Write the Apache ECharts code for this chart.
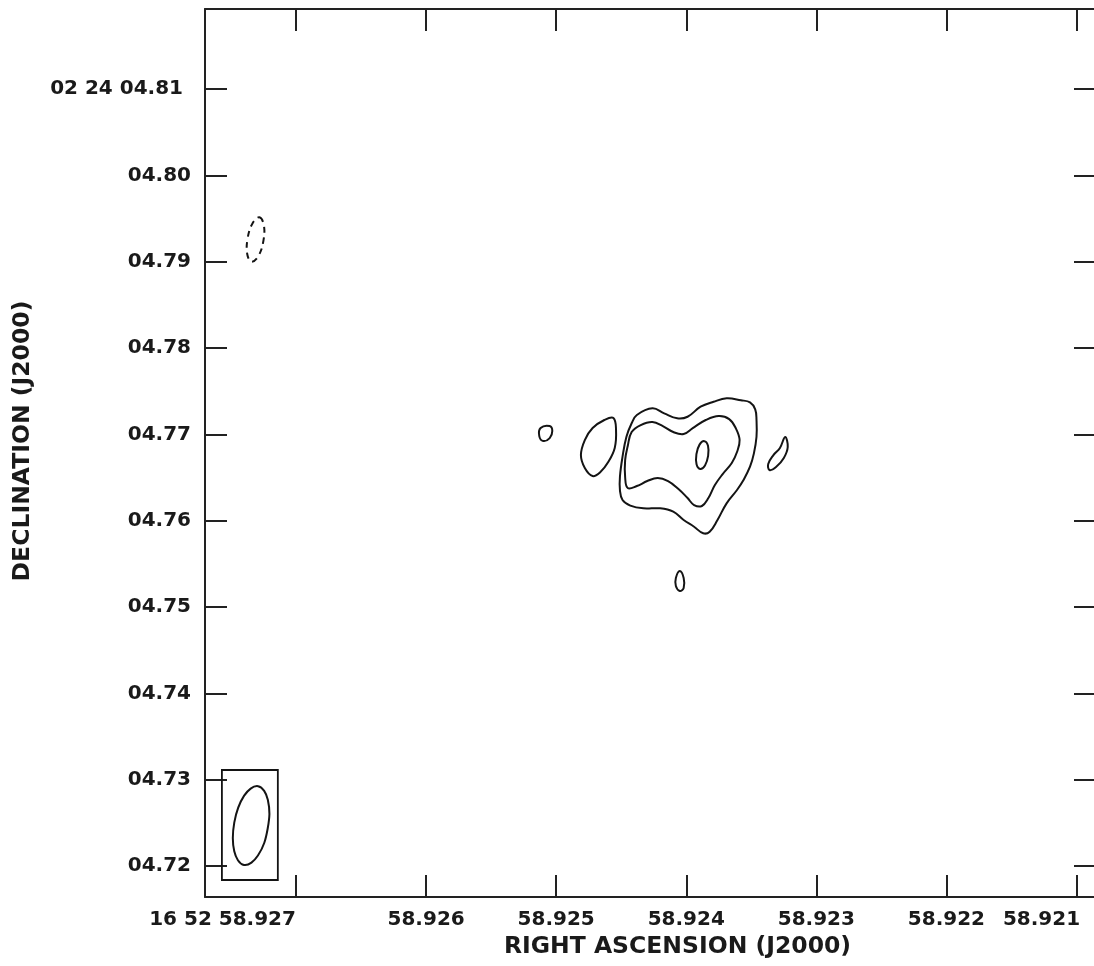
<!DOCTYPE html>
<html>
<head>
<meta charset="utf-8">
<script src="https://cdn.jsdelivr.net/npm/echarts@6/dist/echarts.min.js"></script>
<style>
html, body { margin: 0; padding: 0; background: #fff; }
#main { width: 1094px; height: 966px; }
</style>
</head>
<body>
<div id="main"></div>
<script>
// axis ticks (RA seconds, Dec arcseconds)
const raTicks = [58.927, 58.926, 58.925, 58.924, 58.923, 58.922, 58.921];
const raLabels = ['16 52 58.927', '58.926', '58.925', '58.924', '58.923', '58.922', '58.921'];
const decTicks = [4.72, 4.73, 4.74, 4.75, 4.76, 4.77, 4.78, 4.79, 4.80, 4.81];
const decLabels = ['04.72', '04.73', '04.74', '04.75', '04.76', '04.77', '04.78', '04.79', '04.80', '02 24 04.81'];

// contours, [ra, dec]
const outerContour = [
  [58.92438, 4.77224], [58.92426, 4.77301], [58.92417, 4.77243], [58.92407, 4.77186],
  [58.92399, 4.77204], [58.92389, 4.77320], [58.92379, 4.77378], [58.92369, 4.77417],
  [58.92358, 4.77395], [58.92351, 4.77370], [58.92347, 4.77290], [58.92346, 4.77166],
  [58.92346, 4.76972], [58.92348, 4.76780], [58.92351, 4.76625], [58.92356, 4.76471],
  [58.92361, 4.76355], [58.92369, 4.76201], [58.92376, 4.76008], [58.92382, 4.75872],
  [58.92387, 4.75854], [58.92394, 4.75930], [58.92402, 4.76008], [58.92410, 4.76104],
  [58.92420, 4.76143], [58.92433, 4.76143], [58.92443, 4.76175], [58.92449, 4.76240],
  [58.92451, 4.76355], [58.92451, 4.76509], [58.92449, 4.76741], [58.92446, 4.76972],
  [58.92442, 4.77128]
];
const innerContour = [
  [58.92442, 4.77027], [58.92435, 4.77108], [58.92426, 4.77143], [58.92418, 4.77096],
  [58.92410, 4.77027], [58.92402, 4.77004], [58.92395, 4.77073], [58.92385, 4.77166],
  [58.92375, 4.77212], [58.92367, 4.77177], [58.92362, 4.77073], [58.92359, 4.76934],
  [58.92361, 4.76795], [58.92365, 4.76668], [58.92372, 4.76540], [58.92378, 4.76413],
  [58.92383, 4.76262], [58.92388, 4.76170], [58.92394, 4.76181], [58.92399, 4.76262],
  [58.92406, 4.76367], [58.92414, 4.76459], [58.92422, 4.76494], [58.92430, 4.76459],
  [58.92438, 4.76401], [58.92445, 4.76378], [58.92447, 4.76506], [58.92447, 4.76702],
  [58.92445, 4.76865]
];
const peakContour = [
  [58.923861, 4.769214], [58.923833, 4.768670], [58.923832, 4.767500], [58.923856, 4.766400],
  [58.923893, 4.765995], [58.923921, 4.766539], [58.923922, 4.767709], [58.923898, 4.768809]
];
const westBlob = [
  [58.92456, 4.77189], [58.92463, 4.77166], [58.92472, 4.77073], [58.92478, 4.76934],
  [58.92481, 4.76760], [58.92478, 4.76610], [58.92472, 4.76517], [58.92466, 4.76564],
  [58.92460, 4.76679], [58.92455, 4.76842], [58.92454, 4.77050]
];
const westKnot = [
  [58.92512, 4.77073], [58.92505, 4.77096], [58.92503, 4.77038],
  [58.92505, 4.76957], [58.92510, 4.76923], [58.92513, 4.76980]
];
const eastSliver = [
  [58.92324, 4.76969], [58.92322, 4.76853], [58.92325, 4.76726], [58.92331, 4.76621],
  [58.92336, 4.76587], [58.92337, 4.76656], [58.92333, 4.76760], [58.92328, 4.76842]
];
const southKnot = [
  [58.92405, 4.75417], [58.92402, 4.75336], [58.92402, 4.75220],
  [58.92405, 4.75185], [58.92408, 4.75243], [58.92408, 4.75336]
];
const negContour = [
  [58.927282, 4.795138], [58.927248, 4.794270], [58.927251, 4.792405], [58.927290, 4.790644],
  [58.927342, 4.789995], [58.927375, 4.790864], [58.927372, 4.792729], [58.927333, 4.794490]
];
const beamEllipse = [
  [58.927292, 4.72925], [58.927217, 4.72768], [58.927218, 4.72434], [58.927293, 4.72121],
  [58.927400, 4.72012], [58.927475, 4.72170], [58.927475, 4.72503], [58.927399, 4.72815]
];
const beamBox = [
  [58.92757, 4.73112], [58.92714, 4.73112], [58.92714, 4.71838], [58.92757, 4.71838]
];

const contours = [
  { pts: outerContour, smooth: 0.4 },
  { pts: innerContour, smooth: 0.4 },
  { pts: peakContour, smooth: 0.4 },
  { pts: westBlob, smooth: 0.4 },
  { pts: westKnot, smooth: 0.4 },
  { pts: eastSliver, smooth: 0.4 },
  { pts: southKnot, smooth: 0.4 },
  { pts: negContour, smooth: 0.4, dashed: true },
  { pts: beamEllipse, smooth: 0.4 },
  { pts: beamBox, smooth: 0, thin: true }
];

const raMin = 58.92085, raMax = 58.9277;
const decMin = 4.71641, decMax = 4.81927;

const font = { fontFamily: 'DejaVu Sans', fontWeight: 'bold', color: '#1a1a1a' };
const lineCol = '#222';

function pick(ticks, labels, v) {
  for (let i = 0; i < ticks.length; i++) {
    if (Math.abs(ticks[i] - v) < 1e-7) return labels[i];
  }
  return '';
}

const myChart = echarts.init(document.getElementById('main'));

const axisCommon = {
  splitLine: { show: false },
  axisLine: { lineStyle: { color: lineCol, width: 2 } },
  axisTick: { inside: true, length: 22, lineStyle: { color: lineCol, width: 2 } }
};

const option = {
  animation: false,
  backgroundColor: '#fff',
  grid: { left: 205, right: -2, top: 9, bottom: 69, containLabel: false, outerBoundsMode: 'none' },
  xAxis: [
    Object.assign({}, axisCommon, {
      type: 'value', min: raMin, max: raMax, inverse: true, position: 'bottom',
      axisTick: Object.assign({}, axisCommon.axisTick, { customValues: raTicks }),
      axisLabel: Object.assign({}, font, {
        fontSize: 20, margin: 13, customValues: raTicks, hideOverlap: false,
        formatter: function (v) {
          const s = pick(raTicks, raLabels, v);
          if (Math.abs(v - raTicks[0]) < 1e-7) return '{first|' + s + '}';
          if (Math.abs(v - raTicks[raTicks.length - 1]) < 1e-7) return '{last|' + s + '}';
          return s;
        },
        rich: {
          first: Object.assign({}, font, { fontSize: 20, padding: [0, 147, 0, 0] }),
          last: Object.assign({}, font, { fontSize: 20, padding: [0, 70, 0, 0] })
        }
      }),
      name: 'RIGHT ASCENSION (J2000)',
      nameLocation: 'middle',
      nameGap: 36,
      nameTextStyle: Object.assign({}, font, { fontSize: 23.5, padding: [0, 0, 0, 54] })
    }),
    Object.assign({}, axisCommon, {
      type: 'value', min: raMin, max: raMax, inverse: true, position: 'top',
      axisTick: Object.assign({}, axisCommon.axisTick, { customValues: raTicks }),
      axisLabel: { show: false }
    })
  ],
  yAxis: [
    Object.assign({}, axisCommon, {
      type: 'value', min: decMin, max: decMax, position: 'left',
      axisTick: Object.assign({}, axisCommon.axisTick, { customValues: decTicks }),
      axisLabel: Object.assign({}, font, {
        fontSize: 20, margin: 14, customValues: decTicks, hideOverlap: false,
        formatter: function (v) {
          const s = pick(decTicks, decLabels, v);
          return Math.abs(v - 4.81) < 1e-7 ? '{top|' + s + '}' : s;
        },
        rich: { top: Object.assign({}, font, { fontSize: 20, padding: [0, 8, 0, 0] }) }
      }),
      name: 'DECLINATION (J2000)',
      nameLocation: 'middle',
      nameGap: 170,
      nameTextStyle: Object.assign({}, font, { fontSize: 23.5, padding: [0, 0, 0, 24] })
    }),
    Object.assign({}, axisCommon, {
      type: 'value', min: decMin, max: decMax, position: 'right',
      axisTick: Object.assign({}, axisCommon.axisTick, { customValues: decTicks }),
      axisLabel: { show: false }
    })
  ],
  series: [{
    type: 'custom',
    xAxisIndex: 0,
    yAxisIndex: 0,
    data: contours.map(function (c) { return [c.pts[0][0], c.pts[0][1]]; }),
    renderItem: function (params, api) {
      const c = contours[params.dataIndex];
      const points = c.pts.map(function (p) { return api.coord(p); });
      return {
        type: 'polygon',
        shape: { points: points, smooth: c.smooth },
        style: {
          fill: 'none',
          stroke: '#141414',
          lineWidth: c.thin ? 1.8 : 2,
          lineDash: c.dashed ? [6, 5] : null
        }
      };
    }
  }]
};

myChart.setOption(option);
</script>
</body>
</html>
